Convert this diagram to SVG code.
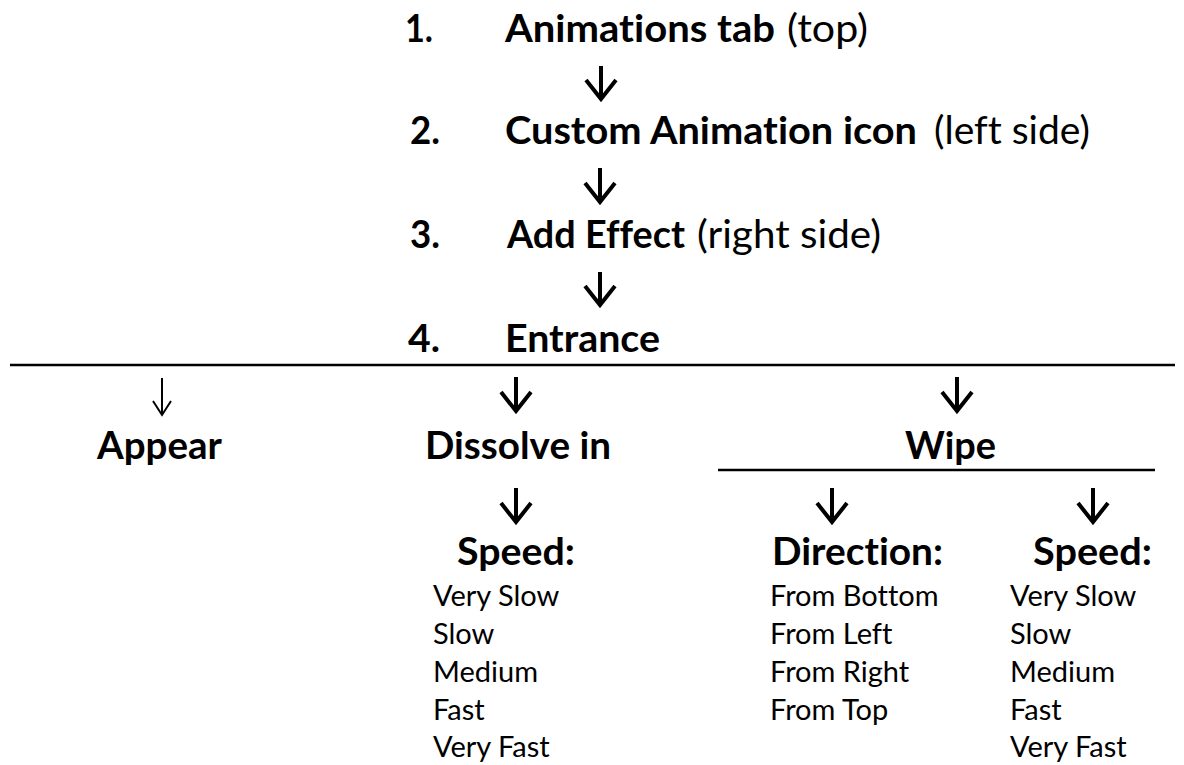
<svg xmlns="http://www.w3.org/2000/svg" width="1184" height="765" viewBox="0 0 1184 765">
<style>
text{font-family:Lato,"Open Sans","Liberation Sans",sans-serif;fill:#000;font-variant-ligatures:none;font-feature-settings:"liga" 0,"clig" 0}
.b{font-weight:bold;font-size:38px}
.r{font-weight:normal;font-size:38px}
.l{font-weight:normal;font-size:29px}
.arr{fill:none;stroke:#000;stroke-width:4;stroke-linejoin:miter}
.thin{fill:none;stroke:#000;stroke-width:2}
.rule{stroke:#000;stroke-width:2.5}
</style>
<rect width="1184" height="765" fill="#fff"/>
<g id="connectors">
<line class="rule" x1="10" y1="365" x2="1175" y2="365"/>
<line class="rule" x1="718" y1="470" x2="1155" y2="470"/>
<path class="arr" d="M601 66V99M586 80L601 99L616 80"/>
<path class="arr" d="M600 168V202M585 183L600 202L615 183"/>
<path class="arr" d="M600 272V305M585 286L600 305L615 286"/>
<path class="thin" d="M162 378V415M153 401L162 415L171 401"/>
<path class="arr" d="M516 377V411M501 392L516 411L531 392"/>
<path class="arr" d="M957 377V411M942 392L957 411L972 392"/>
<path class="arr" d="M516 488V522M501 503L516 522L531 503"/>
<path class="arr" d="M832 488V522M817 503L832 522L847 503"/>
<path class="arr" d="M1093 488V522M1078 503L1093 522L1108 503"/>
</g>
<g id="step1"><text class="b" x="405" y="42" textLength="28" lengthAdjust="spacingAndGlyphs">1.</text><text class="b" x="505" y="42" textLength="270" lengthAdjust="spacingAndGlyphs">Animations tab</text><text class="r" x="787" y="42" textLength="81" lengthAdjust="spacingAndGlyphs">(top)</text></g>
<g id="step2"><text class="b" x="410" y="144" textLength="30" lengthAdjust="spacingAndGlyphs">2.</text><text class="b" x="505" y="144" textLength="412" lengthAdjust="spacingAndGlyphs">Custom Animation icon</text><text class="r" x="934" y="144" textLength="156" lengthAdjust="spacingAndGlyphs">(left side)</text></g>
<g id="step3"><text class="b" x="410" y="248" textLength="30" lengthAdjust="spacingAndGlyphs">3.</text><text class="b" x="507" y="248" textLength="178" lengthAdjust="spacingAndGlyphs">Add Effect</text><text class="r" x="697" y="248" textLength="184" lengthAdjust="spacingAndGlyphs">(right side)</text></g>
<g id="step4"><text class="b" x="408" y="352" textLength="32" lengthAdjust="spacingAndGlyphs">4.</text><text class="b" x="505" y="352" textLength="155" lengthAdjust="spacingAndGlyphs">Entrance</text></g>
<g id="appear"><text class="b" x="97" y="459" textLength="125" lengthAdjust="spacingAndGlyphs">Appear</text></g>
<g id="dissolve"><text class="b" x="425" y="459" textLength="186" lengthAdjust="spacingAndGlyphs">Dissolve in</text></g>
<g id="wipe"><text class="b" x="905" y="459" textLength="91" lengthAdjust="spacingAndGlyphs">Wipe</text></g>
<g id="speed1"><text class="b" x="457" y="565" textLength="118" lengthAdjust="spacingAndGlyphs">Speed:</text>
<text class="l" x="433" y="606">Very Slow</text><text class="l" x="433" y="644">Slow</text><text class="l" x="433" y="682">Medium</text><text class="l" x="433" y="720">Fast</text><text class="l" x="433" y="757">Very Fast</text></g>
<g id="direction"><text class="b" x="772" y="565" textLength="171" lengthAdjust="spacingAndGlyphs">Direction:</text>
<text class="l" x="770" y="606">From Bottom</text><text class="l" x="770" y="644">From Left</text><text class="l" x="770" y="682">From Right</text><text class="l" x="770" y="720">From Top</text></g>
<g id="speed2"><text class="b" x="1033" y="565" textLength="119" lengthAdjust="spacingAndGlyphs">Speed:</text>
<text class="l" x="1010" y="606">Very Slow</text><text class="l" x="1010" y="644">Slow</text><text class="l" x="1010" y="682">Medium</text><text class="l" x="1010" y="720">Fast</text><text class="l" x="1010" y="757">Very Fast</text></g>
</svg>
